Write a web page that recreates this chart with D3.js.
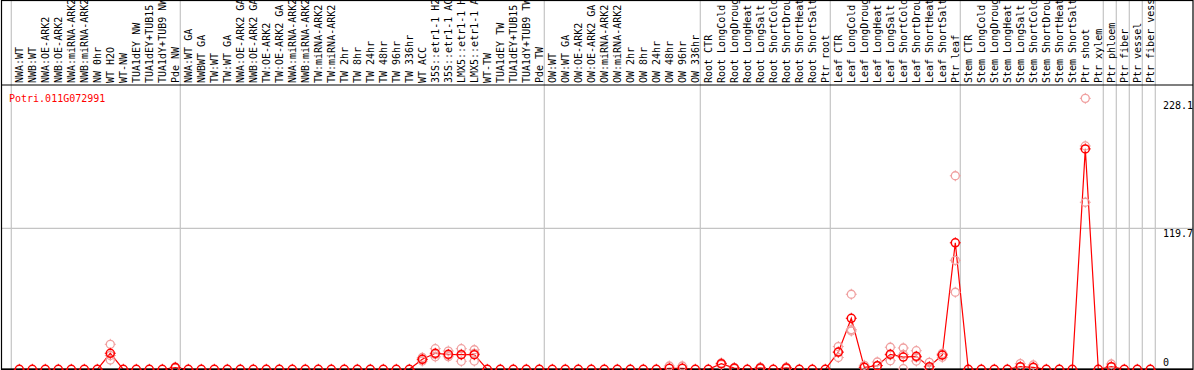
<!DOCTYPE html>
<html>
<head>
<meta charset="utf-8">
<script src="https://cdn.jsdelivr.net/npm/d3@7"></script>
<style>
html,body{margin:0;padding:0;background:#fff;}
svg{display:block;}
text{font-family:"DejaVu Sans Mono",monospace;font-size:10px;}
</style>
</head>
<body>
<svg id="chart" width="1194" height="370"></svg>
<script>
const title = "Potri.011G072991";
const categories = [
 "NWA:WT","NWB:WT","NWA:OE-ARK2","NWB:OE-ARK2","NWA:miRNA-ARK2","NWB:miRNA-ARK2","NW 0hr","WT H2O","WT-NW","TUA1dEY NW","TUA1dEY+TUB15 NW","TUA1dY+TUB9 NW","Pde NW",
 "NWA:WT GA","NWBWT GA","TW:WT","TW:WT GA","NWA:OE-ARK2 GA","NWB:OE-ARK2 GA","TW:OE-ARK2","TW:OE-ARK2 GA","NWA:miRNA-ARK2","NWB:miRNA-ARK2","TW:miRNA-ARK2","TW:miRNA-ARK2","TW 2hr","TW 8hr","TW 24hr","TW 48hr","TW 96hr","TW 336hr","WT ACC","35S::etr1-1 H2O","35S::etr1-1 ACC","LMX5::etr1-1 H2O","LMX5::etr1-1 ACC","WT-TW","TUA1dEY TW","TUA1dEY+TUB15 TW","TUA1dY+TUB9 TW","Pde TW",
 "OW:WT","OW:WT GA","OW:OE-ARK2","OW:OE-ARK2 GA","OW:miRNA-ARK2","OW:miRNA-ARK2","OW 2hr","OW 8hr","OW 24hr","OW 48hr","OW 96hr","OW 336hr",
 "Root CTR","Root LongCold","Root LongDrought","Root LongHeat","Root LongSalt","Root ShortCold","Root ShortDrought","Root ShortHeat","Root ShortSalt","Ptr root",
 "Leaf CTR","Leaf LongCold","Leaf LongDrought","Leaf LongHeat","Leaf LongSalt","Leaf ShortCold","Leaf ShortDrought","Leaf ShortHeat","Leaf ShortSalt","Ptr leaf",
 "Stem CTR","Stem LongCold","Stem LongDrought","Stem LongHeat","Stem LongSalt","Stem ShortCold","Stem ShortDrought","Stem ShortHeat","Stem ShortSalt","Ptr shoot","Ptr xylem",
 "Ptr phloem","Ptr fiber","Ptr vessel","Ptr fiber vessel"
];
// first category of each group (group separators)
const groupStarts = ["NWA:WT","NWA:WT GA","OW:WT","Root CTR","Leaf CTR","Stem CTR","Ptr phloem","Ptr fiber","Ptr vessel","Ptr fiber vessel"];

const means = [
 0,0,0,0,0,0,0,13.6,0,0,0,0,1.5,
 0,0,0,0,0,0,0,0,0,0,0,0,0,0,0,0,0,0,8.5,13.6,12.7,12.4,12.4,0,0,0,0,0,
 0,0,0,0,0,0,0,0,0,0.9,0.9,0,
 0,4.8,1,0,1.2,0,1.2,0,0,0,
 14.6,43.3,1.7,3.1,12.7,10.4,11,2.2,12.1,107.4,
 0,0,0,0,2.2,1.7,0,0,0,187.1,0,
 2.2,0,0,0
];
const rep1 = [
 0,0,0,0,0,0,0,21.2,0,0,0,0,2,
 0,0,0,0,0,0,0,0,0,0,0,0,0,0,0,0,0,0,10,17.5,15.5,17.5,16.6,0,0,0,0,0,
 0,0,0,0,0,0,0,0,0,2.8,2.8,0,
 0,5.4,1.5,0,1.8,0,1.8,0,0,0,
 19.3,63.7,3.4,6.2,18.7,18.1,15.8,5.9,13.5,164.3,
 0,0,0,0,4.8,3.7,0,0,0,230,0,
 4.5,0,0,0
];
const rep2 = [
 0,0,0,0,0,0,0,7.9,0,0,0,0,1.5,
 0,0,0,0,0,0,0,0,0,0,0,0,0,0,0,0,0,0,7,12.7,10.7,6.8,7.0,0,0,0,0,0,
 0,0,0,0,0,0,0,0,0,0,0,0,
 0,4.0,1,0,1.2,0,1.2,0,0,0,
 10.0,32.5,1.7,3.1,7.3,0.5,7,0.7,10.2,92.5,
 0,0,0,0,1.8,1.4,0,0,0,189.6,0,
 2.1,0,0,0
];
const rep3 = [
 0,0,0,0,0,0,0,11.7,0,0,0,0,1,
 0,0,0,0,0,0,0,0,0,0,0,0,0,0,0,0,0,0,8.5,10.6,11.9,12.9,13.6,0,0,0,0,0,
 0,0,0,0,0,0,0,0,0,0,0,0,
 0,5.0,0.5,0,0.6,0,0.6,0,0,0,
 14.5,33.7,0,0,12.1,12.6,10.2,0,12.6,65.4,
 0,0,0,0,0,0,0,0,0,141.8,0,
 0,0,0,0
];
const yTicks = [0, 119.7, 228.1];

const svg = d3.select("#chart");
const W = 1194, H = 370;
const headerBottom = 85, plotBottom = 369.3;

const n = categories.length;
const x = d3.scalePoint().domain(d3.range(n)).range([19.3, 19.3 + 13*(n-1)]);
const y = d3.scaleLinear().domain([0, 119.7]).range([plotBottom, 228.3]);

// vertical group separators
const sepX = groupStarts.map(c => x(categories.indexOf(c)) - 8);
sepX.push(x(n - 1) + 5);
sepX.forEach(v => {
  svg.append("line").attr("x1", v).attr("x2", v).attr("y1", 0).attr("y2", plotBottom)
    .attr("stroke", "#c4c4c4").attr("stroke-width", 1.2);
});

// horizontal grid line(s)
yTicks.filter(t => t > 0 && t < 200).forEach(t => {
  svg.append("line").attr("x1", 1).attr("x2", W - 1).attr("y1", y(t)).attr("y2", y(t))
    .attr("stroke", "#c4c4c4").attr("stroke-width", 1.2);
});

// header labels
svg.append("g").selectAll("text").data(categories).join("text")
  .attr("transform", (d, i) => `translate(${x(i)},83) rotate(-90)`)
  .attr("dy", "0.35em")
  .attr("fill", "#000")
  .text(d => d);

// frame
svg.append("line").attr("x1", 1).attr("x2", W - 1).attr("y1", headerBottom).attr("y2", headerBottom)
  .attr("stroke", "#000").attr("stroke-width", 1.2);
svg.append("rect").attr("x", 1.5).attr("y", 0.5).attr("width", W - 2.5).attr("height", plotBottom - 0.5)
  .attr("fill", "none").attr("stroke", "#000").attr("stroke-width", 1.2);

// title
svg.append("text").attr("x", 9).attr("y", 101.5).attr("fill", "#ff0000").text(title);

// y labels
svg.append("g").selectAll("text").data(yTicks).join("text")
  .attr("x", 1163)
  .attr("y", d => d === 0 ? 365.5 : y(d) + 8.5)
  .attr("fill", "#000")
  .text(d => d);

// mean line
const line = d3.line().x((d, i) => x(i)).y(d => y(d));
svg.append("path").datum(means).attr("d", line)
  .attr("fill", "none").attr("stroke", "#ff0000").attr("stroke-width", 1.2);

// bottom axis line over the data line
svg.append("line").attr("x1", 1).attr("x2", W - 1).attr("y1", plotBottom).attr("y2", plotBottom)
  .attr("stroke", "#000").attr("stroke-width", 1.5);

function marker(g, cx, cy, color, sw) {
  const r = 4;
  g.append("circle").attr("cx", cx).attr("cy", cy).attr("r", r)
    .attr("fill", "none").attr("stroke", color).attr("stroke-width", sw);
  const p = `M${cx},${cy-r-1.5}V${cy-r}M${cx},${cy+r}V${cy+r+1.5}M${cx-r-1.5},${cy}H${cx-r}M${cx+r},${cy}H${cx+r+1.5}`;
  g.append("path").attr("d", p).attr("stroke", color).attr("stroke-width", 1);
}

// replicate points
const gr = svg.append("g");
[rep1, rep2, rep3].forEach(rep => {
  rep.forEach((v, i) => {
    if (v > 0) marker(gr, x(i), y(v), "#f0a0a0", 1.3);
  });
});
// mean points
const gm = svg.append("g");
means.forEach((v, i) => marker(gm, x(i), y(v), "#ff0000", 1.5));
</script>
</body>
</html>
